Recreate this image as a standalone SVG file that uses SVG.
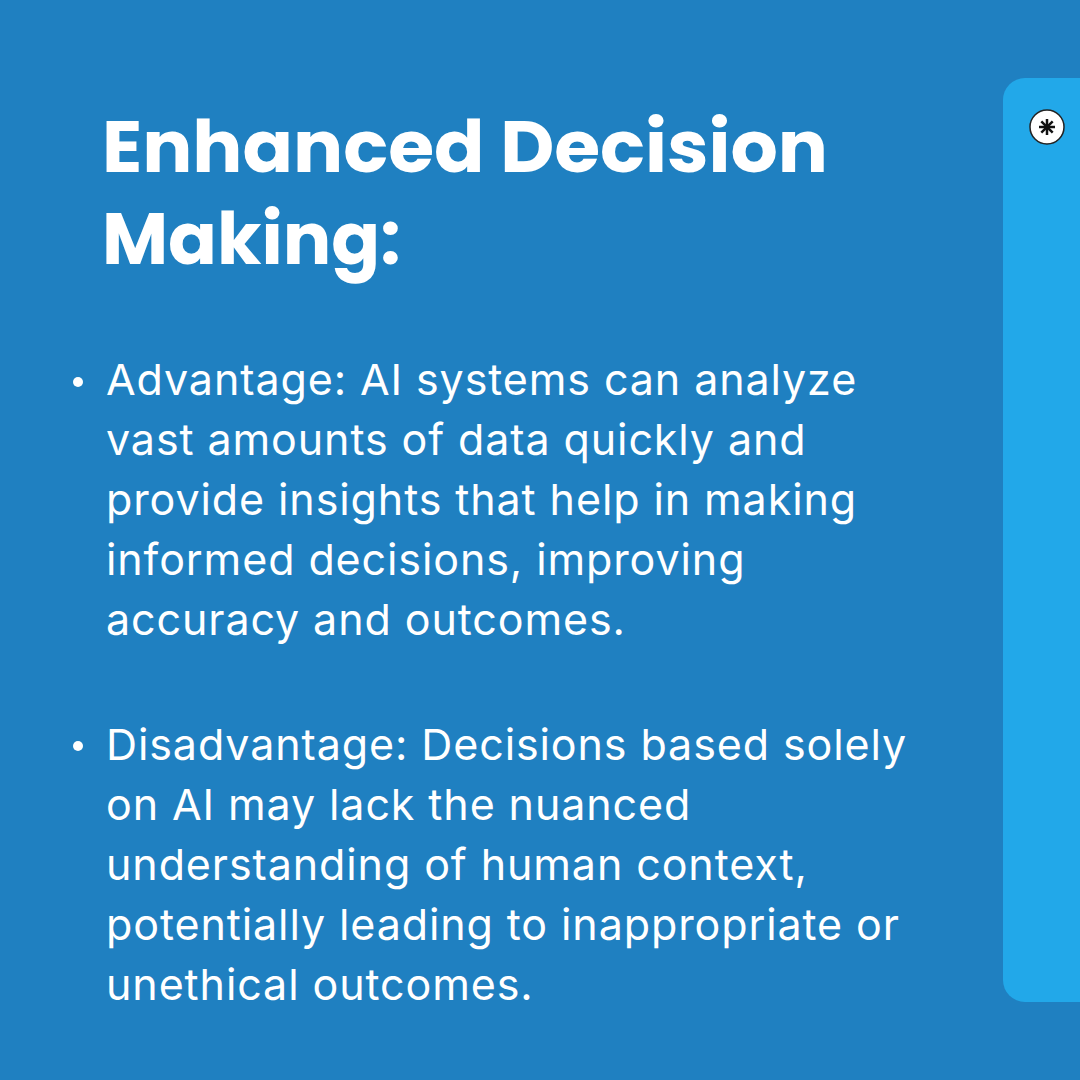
<svg xmlns="http://www.w3.org/2000/svg" width="1080" height="1080" viewBox="0 0 1080 1080">
<style>
.t{font-family:"Inter","Liberation Sans",sans-serif;font-size:43px;letter-spacing:0.9px;fill:#fff}
.h{font-family:"Poppins","Inter","Liberation Sans",sans-serif;font-weight:700;font-size:72px;fill:#fff}
</style>
<rect width="1080" height="1080" fill="#1f80c1"/>
<rect x="1003" y="78" width="120" height="924" rx="22" fill="#22a8e9"/>
<g id="icon">
<circle cx="1047" cy="127" r="17" fill="#fff" stroke="#222" stroke-width="1.5"/>
<g stroke="#111" stroke-width="2.5"><line x1="1047" y1="119" x2="1047" y2="135"/><line x1="1039" y1="127" x2="1055" y2="127"/><line x1="1041.3" y1="121.3" x2="1052.7" y2="132.7"/><line x1="1052.7" y1="121.3" x2="1041.3" y2="132.7"/></g>
</g>
<g id="title">
<text class="h" x="102" y="172" textLength="726" lengthAdjust="spacingAndGlyphs">Enhanced Decision</text>
<text class="h" x="102" y="264">Making:</text>
</g>
<g id="adv">
<circle cx="78" cy="382" r="5" fill="#fff"/>
<text class="t"><tspan x="106" y="395">Advantage: AI systems can analyze</tspan><tspan x="106" y="455">vast amounts of data quickly and</tspan><tspan x="106" y="515">provide insights that help in making</tspan><tspan x="106" y="575">informed decisions, improving</tspan><tspan x="106" y="635">accuracy and outcomes.</tspan></text>
</g>
<g id="dis">
<circle cx="78" cy="746" r="5" fill="#fff"/>
<text class="t"><tspan x="106" y="760">Disadvantage: Decisions based solely</tspan><tspan x="106" y="820">on AI may lack the nuanced</tspan><tspan x="106" y="880">understanding of human context,</tspan><tspan x="106" y="940">potentially leading to inappropriate or</tspan><tspan x="106" y="1000">unethical outcomes.</tspan></text>
</g>
</svg>
